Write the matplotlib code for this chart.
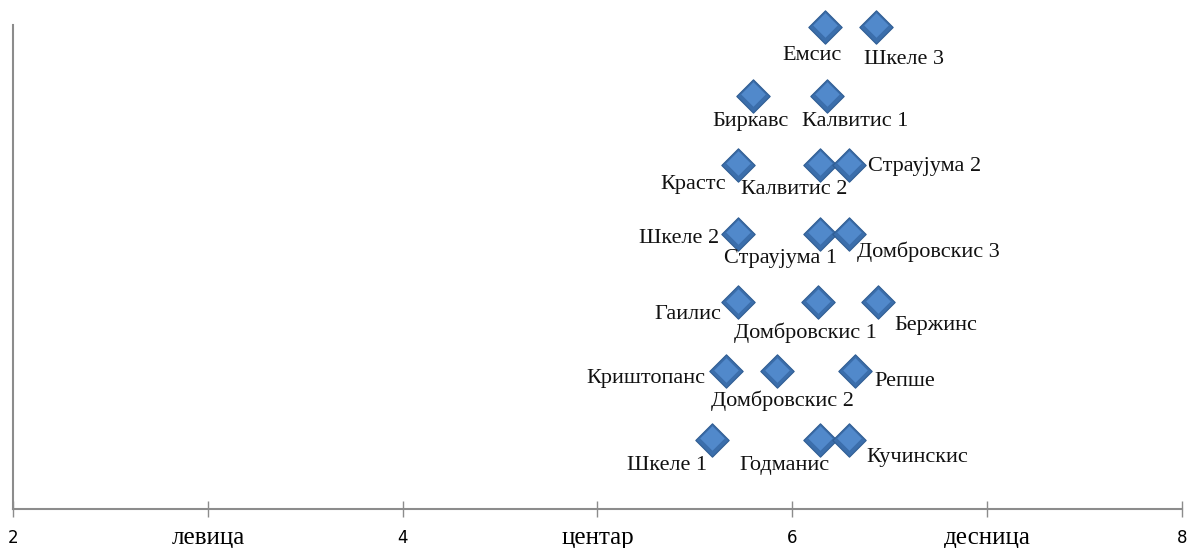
import matplotlib.pyplot as plt

# --- data ---
names = ["Емсис", "Шкеле 3",
         "Биркавс", "Калвитис 1",
         "Крастс", "Калвитис 2", "Страујума 2",
         "Шкеле 2", "Страујума 1", "Домбровскис 3",
         "Гаилис", "Домбровскис 1", "Бержинс",
         "Криштопанс", "Домбровскис 2", "Репше",
         "Шкеле 1", "Годманис", "Кучинскис"]
x_vals = [6.17, 6.43,
          5.80, 6.18,
          5.72, 6.14, 6.29,
          5.72, 6.14, 6.29,
          5.72, 6.13, 6.44,
          5.66, 5.92, 6.32,
          5.59, 6.14, 6.29]
y_vals = [7, 7,
          6, 6,
          5, 5, 5,
          4, 4, 4,
          3, 3, 3,
          2, 2, 2,
          1, 1, 1]
num_ticks = [2, 4, 6, 8]
num_labels = ["2", "4", "6", "8"]
cat_ticks = [3, 5, 7]
cat_labels = ["левица", "центар", "десница"]

# label offsets from the marker centre, in pixels (right, down)
label_offsets = [(-13, 28), (28, 32),
                 (-3, 26), (28, 26),
                 (-45, 20), (-25, 25), (76, 2),
                 (-59, 5), (-39, 25), (80, 18),
                 (-50, 12), (-12, 30), (58, 23),
                 (-80, 7), (6, 29), (50, 10),
                 (-45, 25), (-35, 25), (68, 17)]

fig = plt.figure(figsize=(11.89, 5.48), dpi=100)
ax = fig.add_axes([13 / 1189, 1 - 509 / 548, 1169 / 1189, 484 / 548])
ax.set_xlim(2, 8)
ax.set_ylim(0, 7.03)

# diamond with a slight bevel look: darker base + lighter inner part
ax.scatter(x_vals, y_vals, marker='D', s=17 ** 2, c='#3b6eab',
           edgecolors='#2f5d93', linewidths=0.8, zorder=3, clip_on=False)
ax.scatter(x_vals, [y + 0.025 for y in y_vals], marker='D', s=12.5 ** 2,
           c='#5189cb', linewidths=0, zorder=4, clip_on=False)

for name, x, y, (dx, dy) in zip(names, x_vals, y_vals, label_offsets):
    ax.annotate(name, (x, y), xytext=(dx * 0.72, -dy * 0.72),
                textcoords='offset points', ha='center', va='center',
                fontsize=16, family='Liberation Serif', color='#111111')

# axes styling
for side in ['top', 'right']:
    ax.spines[side].set_visible(False)
for side in ['left', 'bottom']:
    ax.spines[side].set_color('#8c8c8c')
    ax.spines[side].set_linewidth(1.5)
ax.set_yticks([])

ax.set_xticks(num_ticks)
ax.set_xticklabels(num_labels, fontsize=12, family='DejaVu Sans')
ax.set_xticks(cat_ticks, minor=True)
ax.set_xticklabels(cat_labels, minor=True, fontsize=18, family='Liberation Serif')
ax.tick_params(axis='x', which='both', direction='inout', length=11.5,
               width=1, color='#8c8c8c')
ax.tick_params(axis='x', which='major', pad=9)
ax.tick_params(axis='x', which='minor', pad=7)

fig.savefig('out.png', dpi=100)
